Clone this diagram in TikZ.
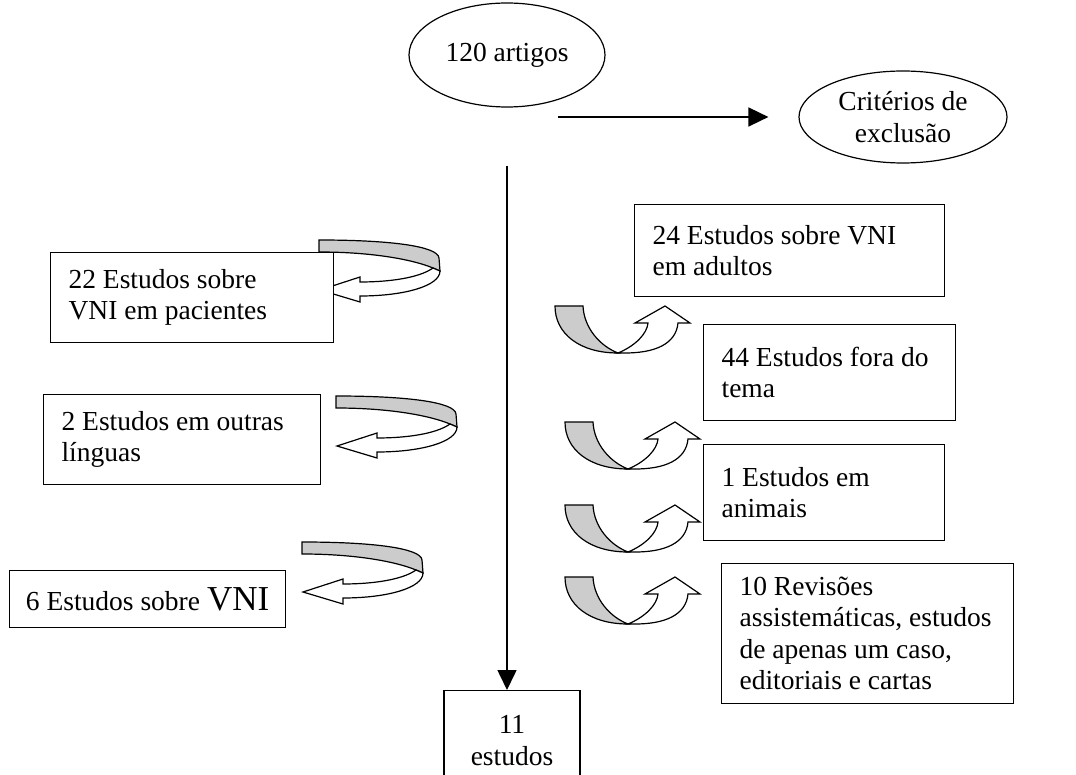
\documentclass[tikz,border=0pt]{standalone}
\usepackage{fontspec}
\setmainfont{Liberation Serif}
\usetikzlibrary{arrows.meta,shapes.geometric,math}
\tikzset{every picture/.style={/utils/exec={\fontsize{27.5}{31.5}\selectfont}}}
\tikzset{box/.style={draw,fill=white,line width=1.2pt,anchor=north west,align=flush left,inner xsep=18pt,inner ysep=0pt}}
\tikzset{oval/.style={draw,ellipse,line width=1.2pt,align=center,inner sep=0pt}}
\tikzset{flow/.style={-{Triangle[length=20pt,width=19pt]},line width=1.6pt}}
\tikzset{back/.style={draw,line width=1.2pt,fill=black!20}}
\tikzset{front/.style={draw,line width=1.2pt,fill=white}}
\tikzset{loopback/.pic={
    \path [back] (0,0) .. controls (70,0) and (119,6) .. (120,18) -- (121,31) -- (114,28) .. controls (95,20) and (55,12) .. (0,12) -- cycle;
    \path [front] (114,28) .. controls (100,38) and (70,42) .. (41,42) -- (41,37) -- (1,50) -- (41,62) -- (41,56) .. controls (85,56) and (121,46) .. (121,31) -- cycle;
}}
\tikzset{uturn/.pic={
    \path [back] (0,0) -- (28,0) .. controls (29,22) and (45,40) .. (63,47) .. controls (25,47) and (0,28) .. (0,0) -- cycle;
    \path [front] (63,47) .. controls (80,40) and (92,28) .. (93,17) -- (80,17) -- (110,0) -- (135,17) -- (123,17) .. controls (121,38) and (100,47) .. (70,47) -- cycle;
}}

\begin{document}
\begin{tikzpicture}[x=1pt,y=-1pt]
    \tikzmath{\ux=565;}
    \clip (0,0) rectangle (1076,775);
    \pic at (319,240) {loopback};
    \pic at (336,396) {loopback};
    \pic at (302,542) {loopback};
    \pic at (555,306) {uturn};
    \foreach \uy in {422,505,577} \pic at (\ux,\uy) {uturn};
    \node [oval,minimum width=196pt,minimum height=104pt] (art) at (507,55) {120 artigos};
    \node [oval,minimum width=208pt,minimum height=92pt] (crit) at (903,117) {Critérios de\\exclusão};
    \node [box,minimum width=310pt,minimum height=92pt,text width=274pt] (adult) at (634,204) {24 Estudos sobre VNI\\em adultos};
    \node [box,minimum width=252pt,minimum height=96pt,text width=216pt] (tema) at (703,324) {44 Estudos fora do\\tema};
    \node [box,minimum width=241pt,minimum height=96pt,text width=205pt] (anim) at (703,444) {1 Estudos em\\animais};
    \node [box,minimum width=292pt,minimum height=140pt,text width=256pt] (rev) at (721,563) {10 Revisões\\assistemáticas, estudos\\de apenas um caso,\\editoriais e cartas};
    \node [box,minimum width=283pt,minimum height=90pt,text width=247pt] (pac) at (50,252) {22 Estudos sobre\\VNI em pacientes};
    \node [box,minimum width=277pt,minimum height=90pt,text width=241pt] (ling) at (43,394) {2 Estudos em outras\\línguas};
    \node [box,minimum width=276pt,minimum height=57pt,text width=260pt,inner xsep=8pt,align=flush center] (vni) at (9,570) {6 Estudos sobre {\fontsize{35}{36}\selectfont VNI}};
    \node [box,anchor=north,minimum width=136pt,minimum height=100pt,text width=110pt,align=flush center,inner xsep=13pt] (fin) at (512,690) {11\\estudos};
    \coordinate (h0) at (558,117);
    \draw [flow,shorten >=30pt] (h0) -- (h0 -| crit.west);
    \coordinate (v0) at (507,166);
    \draw [flow] (v0) -- (v0 |- fin.north);
\end{tikzpicture}
\end{document}
